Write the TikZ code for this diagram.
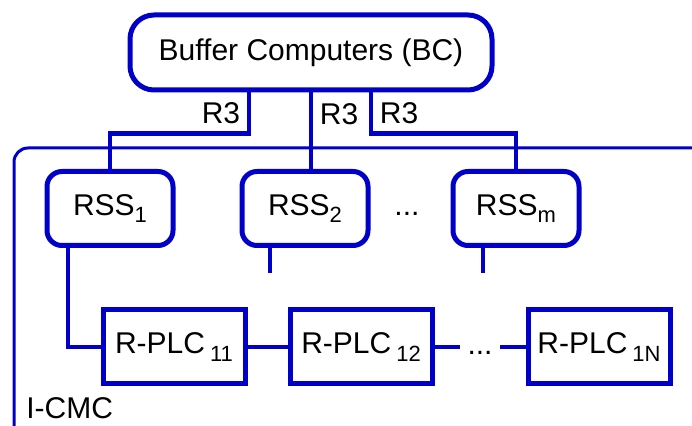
\documentclass[tikz,border=0pt]{standalone}
\usepackage{fontspec}
\setmainfont{Liberation Sans}
\usetikzlibrary{calc}
\definecolor{linkblue}{HTML}{0000C8}
\newcommand{\idx}[1]{\raisebox{-0.45ex}{\fontsize{11}{11}\selectfont #1}}

\begin{document}
\begin{tikzpicture}[x=0.5pt,y=-0.5pt,
    font=\fontsize{15}{18}\selectfont,
    box/.style={draw=linkblue,line width=2.5pt,inner sep=0pt},
    bcbox/.style={box,rounded corners=12pt,minimum width=181pt,minimum height=37.5pt},
    rssbox/.style={box,rounded corners=7.5pt,minimum width=63pt,minimum height=37pt},
    plcbox/.style={box,minimum width=71pt,minimum height=37pt},
    link/.style={draw=linkblue,line width=2.2pt},
    gap/.style={inner sep=3.5pt,text height=0.72em,text depth=0pt}]
    \useasboundingbox (0,0) rectangle (692,426);
    \clip (0,0) rectangle (692,426);
    % I-CMC frame, open to the right
    \draw[linkblue,line width=1.5pt,rounded corners=7pt] (720,148) -- (14,148) -- (14,440) -- (720,440);
    \node[anchor=base west,inner sep=0pt] (icmc) at (26,419) {I-CMC};
    \node[bcbox] (bc) at (311,52.5) {Buffer Computers (BC)};
    \node[rssbox] (rss1) at (110,208.5) {RSS\idx{1}};
    \node[rssbox] (rss2) at (305,208.5) {RSS\idx{2}};
    \node[gap] (dots1) at (407,208) {...};
    \node[rssbox] (rssm) at (516,208.5) {RSS\idx{m}};
    \node[plcbox] (plc11) at (174,347) {R-PLC\,\idx{11}};
    \node[plcbox] (plc12) at (361,347) {R-PLC\,\idx{12}};
    \node[gap] (dots2) at (480,347) {...};
    \node[plcbox] (plc1n) at (599,347) {R-PLC\,\idx{1N}};
    % R3 links
    \coordinate (r3a) at ($(bc.south)+(-62,0)$);
    \coordinate (r3c) at ($(bc.south)+(60,0)$);
    \draw[link] (r3a) -- node[left]{R3} ++(0,41) -| (rss1.north);
    \draw[link] (bc.south) -- node[right,pos=0.28]{R3} (bc.south |- rss2.north);
    \draw[link] (r3c) -- node[right]{R3} ++(0,41) -| (rssm.north);
    % field bus
    \coordinate (s1) at ($(rss1.south)+(-42,0)$);
    \coordinate (s2) at ($(rss2.south)+(-35,0)$);
    \coordinate (sm) at ($(rssm.south)+(-33,0)$);
    \draw[link] (s1) |- (plc11.west);
    \draw[link] (s2) -- ++(0,25);
    \draw[link] (sm) -- ++(0,25);
    \draw[link] (plc11) -- (plc12) -- (dots2) -- (plc1n);
\end{tikzpicture}
\end{document}
